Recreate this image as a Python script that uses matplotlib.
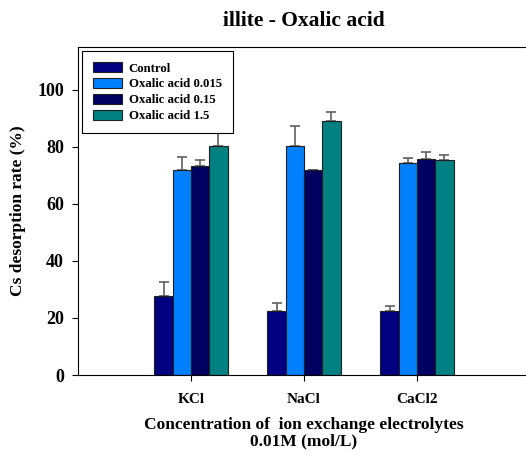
import numpy as np
import matplotlib
matplotlib.use('Agg')
import matplotlib.pyplot as plt

plt.rcParams['font.family'] = ['Liberation Serif', 'DejaVu Serif']
plt.rcParams['font.weight'] = 'bold'

# data
categories = ['KCl', 'NaCl', 'CaCl2']
series = ['Control', 'Oxalic acid 0.015', 'Oxalic acid 0.15', 'Oxalic acid 1.5']
control = [27.8, 22.6, 22.6]
oxalic_0015 = [72.0, 80.2, 74.4]
oxalic_015 = [73.3, 71.7, 75.8]
oxalic_15 = [80.2, 89.0, 75.4]
control_err = [4.9, 2.5, 1.6]
oxalic_0015_err = [4.6, 7.2, 1.6]
oxalic_015_err = [2.2, 0.3, 2.3]
oxalic_15_err = [5.0, 3.2, 1.7]

values = [control, oxalic_0015, oxalic_015, oxalic_15]
errors = [control_err, oxalic_0015_err, oxalic_015_err, oxalic_15_err]
colors = ['#000080', '#0080FF', '#000060', '#008080']

fig = plt.figure(figsize=(5.26, 4.57), dpi=100)
ax = fig.add_axes([78 / 526, 1 - 375 / 457, 452 / 526, 328 / 457])

x = np.arange(1, len(categories) + 1)
width = 0.162
for i, (vals, errs) in enumerate(zip(values, errors)):
    pos = x + (i - 1.5) * width
    ax.bar(pos, vals, width, color=colors[i], edgecolor='#202020', linewidth=0.8,
           label=series[i], zorder=2)
    ax.errorbar(pos, vals, yerr=[np.zeros(len(errs)), errs], fmt='none',
                ecolor='#606060', elinewidth=1.2, capsize=3.5, capthick=1.2, zorder=1)

ax.set_xlim(0, 4)
ax.set_ylim(0, 115)
ax.set_xticks(x)
ax.set_xticklabels(categories)
ax.set_yticks([0, 20, 40, 60, 80, 100])
ax.tick_params(axis='both', direction='out', length=4)
ax.tick_params(axis='x', labelsize=11, pad=9)
ax.tick_params(axis='y', labelsize=13, pad=6)
for lab in ax.get_xticklabels() + ax.get_yticklabels():
    lab.set_fontweight('bold')

ax.set_ylabel('Cs desorption rate (%)', fontsize=12.5, fontweight='bold', labelpad=8)
ax.set_xlabel('Concentration of  ion exchange electrolytes\n0.01M (mol/L)',
              fontsize=12.5, fontweight='bold', labelpad=8, linespacing=1.0)
ax.set_title('illite - Oxalic acid', fontsize=15.5, fontweight='bold', pad=15)

leg = ax.legend(loc='upper left', bbox_to_anchor=(4 / 452, 1 - 4 / 328),
                borderaxespad=0, prop={'weight': 'bold', 'size': 9.2}, fancybox=False,
                edgecolor='black', framealpha=1, handlelength=2.3, handleheight=0.9,
                handletextpad=0.5, borderpad=0.85, labelspacing=0.25)
leg.get_frame().set_linewidth(0.8)

fig.savefig('out.png', dpi=100)
